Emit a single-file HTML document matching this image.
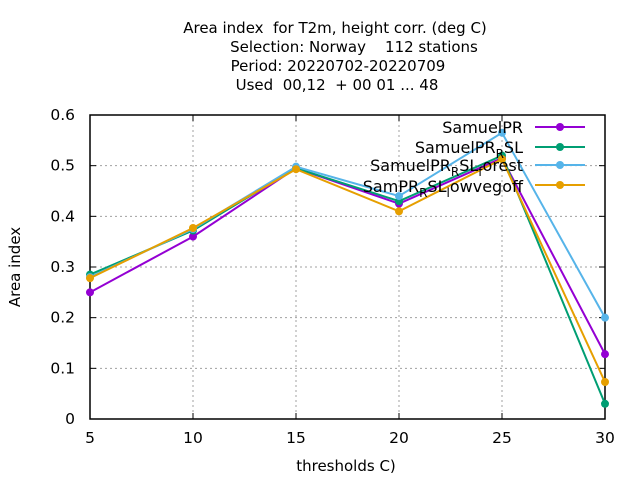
<!DOCTYPE html>
<html><head><meta charset="utf-8"><style>body{margin:0;background:#fff}svg{display:block;font-family:"DejaVu Sans","Liberation Sans",sans-serif}text{white-space:pre}</style></head>
<body>
<svg id="chart" width="640" height="480">
<g font-size="15" text-anchor="middle" fill="#000">
<text x="335" y="33">Area index  for T2m, height corr. (deg C)</text>
<text x="354" y="52">Selection: Norway    112 stations</text>
<text x="338" y="71">Period: 20220702-20220709</text>
<text x="337" y="90">Used  00,12  + 00 01 ... 48</text>
</g>
<g id="grid"></g>
<rect x="90" y="115" width="515" height="304" fill="none" stroke="#000" stroke-width="1.5"/>
<g id="ticks" font-size="15.5"></g>
<text x="20" y="267" font-size="15" text-anchor="middle" transform="rotate(-90 20 267)">Area index</text>
<text x="346" y="471" font-size="15" text-anchor="middle">thresholds C)</text>
<g id="series"></g>
<g id="legend" font-size="16" text-anchor="end">
<text x="523" y="133">SamuelPR</text>
<text x="523" y="153">SamuelPR<tspan font-size="12" dy="5">R</tspan><tspan dy="-5">SL</tspan></text>
<text x="523" y="171">SamuelPR<tspan font-size="12" dy="5">R</tspan><tspan dy="-5">SL</tspan><tspan font-size="12" dy="5">f</tspan><tspan dy="-5">orest</tspan></text>
<text x="523" y="192">SamPR<tspan font-size="12" dy="5">R</tspan><tspan dy="-5">SL</tspan><tspan font-size="12" dy="5">l</tspan><tspan dy="-5">owvegoff</tspan></text>
</g>
</svg>
<script>
const categories=[5,10,15,20,25,30];
const yTicks=[0,0.1,0.2,0.3,0.4,0.5,0.6];
const yTickLabels=["0","0.1","0.2","0.3","0.4","0.5","0.6"];
const seriesNames=["SamuelPR","SamuelPR_R SL","SamuelPR_R SL_forest","SamPR_R SL_lowvegoff"];
const sPR=[0.25,0.36,0.495,0.425,0.515,0.128];
const sSL=[0.285,0.372,0.495,0.43,0.52,0.03];
const sForest=[0.28,0.375,0.498,0.44,0.565,0.2];
const sLowveg=[0.278,0.377,0.493,0.41,0.513,0.073];
const colors=["#9400d3","#009e73","#56b4e9","#e69f00"];
const NS="http://www.w3.org/2000/svg";
const X=v=>90+(v-5)/25*515, Y=v=>419-v/0.6*304;
function mk(t,a,p){const e=document.createElementNS(NS,t);for(const k in a)e.setAttribute(k,a[k]);p.appendChild(e);return e;}
const grid=document.getElementById('grid'),ticks=document.getElementById('ticks'),ser=document.getElementById('series');
yTicks.forEach((v,i)=>{
 if(v>0&&v<0.6){const l=mk('line',{x1:90,x2:605,y1:Y(v),y2:Y(v),stroke:'#a0a0a0','stroke-dasharray':'2,3'},grid);
 }
 mk('line',{x1:90,x2:96,y1:Y(v),y2:Y(v),stroke:'#000'},ticks);mk('line',{x1:599,x2:605,y1:Y(v),y2:Y(v),stroke:'#000'},ticks);
 const t=mk('text',{x:75,y:Y(v)+5,'text-anchor':'end'},ticks);t.textContent=yTickLabels[i];
 
});
categories.forEach(c=>{
 if(c>5&&c<30){const l=mk('line',{x1:X(c),x2:X(c),y1:115,y2:419,stroke:'#a0a0a0','stroke-dasharray':'2,3'},grid);
 }
 mk('line',{x1:X(c),x2:X(c),y1:419,y2:413,stroke:'#000'},ticks);mk('line',{x1:X(c),x2:X(c),y1:115,y2:121,stroke:'#000'},ticks);
 const t=mk('text',{x:X(c),y:443,'text-anchor':'middle'},ticks);t.textContent=c;
 
});
[sPR,sSL,sForest,sLowveg].forEach((s,i)=>{
 const g=mk('g',{},ser);
 
 
 mk('polyline',{points:s.map((v,j)=>X(categories[j])+','+Y(v)).join(' '),fill:'none',stroke:colors[i],'stroke-width':2},g);
 s.forEach((v,j)=>{const p=mk('circle',{cx:X(categories[j]),cy:Y(v),r:4,fill:colors[i]},g);
  });
 const ly=[127,147,165,185][i];
 mk('line',{x1:535,x2:585,y1:ly,y2:ly,stroke:colors[i],'stroke-width':2},ser);
 mk('circle',{cx:560,cy:ly,r:4,fill:colors[i]},ser);
});
</script>
</body></html>
